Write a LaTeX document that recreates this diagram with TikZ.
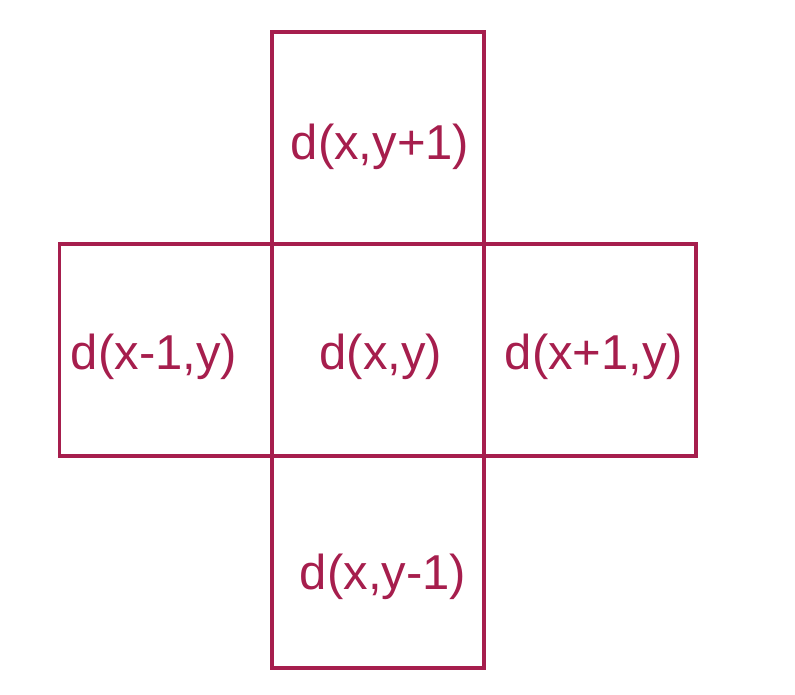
\documentclass[tikz,border=0pt]{standalone}
\usepackage{fontspec}
\setmainfont{Liberation Sans}
\definecolor{boxc}{HTML}{A61E4D}
\begin{document}
\begin{tikzpicture}[x=1pt,y=-1pt,
  cell/.style={draw=boxc,line width=3.3pt,minimum width=212pt,minimum height=212pt,inner sep=0pt,outer sep=0pt},
  lbl/.style={text=boxc,font=\fontsize{49}{55}\selectfont,inner sep=0pt}]
\useasboundingbox (0,0) rectangle (795,695);
\node[cell] (top) at (378,138) {};
\node[cell] (left) at (165.5,350) {};
\node[cell] (right) at (590,350) {};
\node[cell] (bottom) at (378,562) {};
\node[cell] (center) at (378,350) {};
\node[lbl] (ttop) at (380,147) {d(x,y+1)};
\node[lbl] (tleft) at (154,357) {d(x-1,y)};
\node[lbl] (tcenter) at (381,357) {d(x,y)};
\node[lbl] (tright) at (594,357) {d(x+1,y)};
\node[lbl] (tbottom) at (383,577) {d(x,y-1)};
\end{tikzpicture}
\end{document}
